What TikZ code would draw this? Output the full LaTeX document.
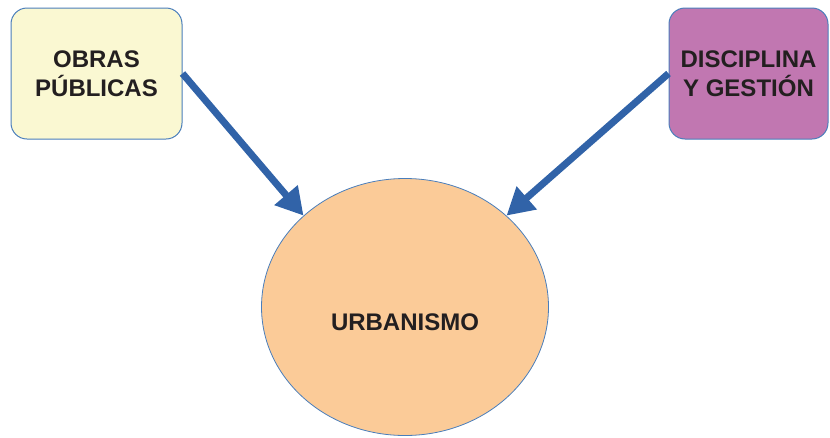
\documentclass[tikz,border=0pt]{standalone}
\usepackage{fontspec}
\setmainfont{Liberation Sans}
\usetikzlibrary{arrows.meta,shapes.geometric}

\definecolor{obrasfill}{HTML}{FAF8D2}
\definecolor{discfill}{HTML}{C177B1}
\definecolor{urbfill}{HTML}{FBCB98}
\definecolor{edgeblue}{HTML}{4A7EBB}
\definecolor{arrowblue}{HTML}{3163A8}
\definecolor{textdark}{HTML}{231F20}

\begin{document}
\begin{tikzpicture}[x=1pt,y=-1pt,
  every node/.style={font=\bfseries\fontsize{24}{29}\selectfont, text=textdark},
  area/.style={draw=edgeblue, line width=1pt, rounded corners=16pt, minimum width=171pt, minimum height=131pt, align=center},
  feed/.style={draw=arrowblue, line width=7pt, -{Triangle[length=27pt,width=29pt]}}]
\useasboundingbox (0,0) rectangle (830,437);

\node[area, fill=obrasfill] (obras) at (96.5,73.5) {OBRAS\\PÚBLICAS};
\node[area, fill=discfill, minimum width=159pt] (disc) at (748.5,73.5) {DISCIPLINA\\Y GESTIÓN};
\node[ellipse, draw=edgeblue, line width=0.8pt, fill=urbfill, minimum width=287pt, minimum height=257pt,
  label={[yshift=-15pt]center:URBANISMO}] (urb) at (405,307) {};

\draw[feed] (obras.east) -- (urb.138);
\draw[feed] (disc.west) -- (urb.42);

\end{tikzpicture}
\end{document}
